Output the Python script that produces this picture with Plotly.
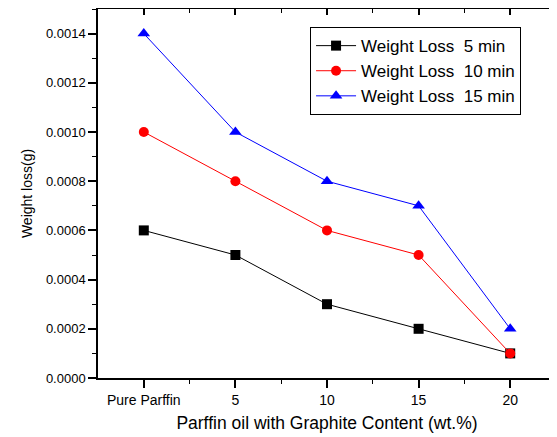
import plotly.graph_objects as go

categories = ["Pure Parffin", "5", "10", "15", "20"]
loss_5min = [0.0006, 0.0005, 0.0003, 0.0002, 0.0001]
loss_10min = [0.0010, 0.0008, 0.0006, 0.0005, 0.0001]
loss_15min = [0.0014, 0.0010, 0.0008, 0.0007, 0.0002]
y_ticks = [0, 0.0002, 0.0004, 0.0006, 0.0008, 0.0010, 0.0012, 0.0014]
y_ticklabels = ["0.0000", "0.0002", "0.0004", "0.0006", "0.0008", "0.0010", "0.0012", "0.0014"]

xpos = list(range(len(categories)))
font = "Arial, Liberation Sans, sans-serif"

fig = go.Figure()
series = [
    ("Weight Loss  5 min", loss_5min, "black", "square"),
    ("Weight Loss  10 min", loss_10min, "red", "circle"),
    ("Weight Loss  15 min", loss_15min, "blue", "triangle-up"),
]
for name, vals, col, sym in series:
    fig.add_trace(go.Scatter(
        x=xpos, y=vals, name=name, mode="lines+markers",
        line=dict(color=col, width=1),
        marker=dict(symbol=sym, size=10 if sym != "triangle-up" else 11, color=col, line=dict(width=0)),
    ))

fig.add_trace(go.Scatter(x=[None], y=[None], xaxis="x2", yaxis="y2", showlegend=False, hoverinfo="skip"))

xr = [-0.5, len(categories) - 0.5]
yr = [0, 0.0015]
minor_x = [i + 0.5 for i in range(len(categories) - 1)]

# page body has an 8px default margin, so the figure is sized/offset to compensate
fig.update_layout(
    width=549, height=429,
    paper_bgcolor="white", plot_bgcolor="white",
    margin=dict(l=90, r=1, t=1, b=59),
    font=dict(family=font, size=13, color="black"),
    xaxis=dict(
        range=xr, tickmode="array", tickvals=xpos, ticktext=categories, automargin=False,
        showgrid=False, zeroline=False, showline=True, linecolor="black", linewidth=1.5,
        ticks="outside", ticklen=8, tickwidth=1.5, tickcolor="black",
        minor=dict(tickmode="array", tickvals=minor_x, ticks="outside", ticklen=4, tickwidth=1.2, tickcolor="black"),
        title=dict(text="Parffin oil with Graphite Content (wt.%)", font=dict(size=17.5), standoff=10),
        tickfont=dict(size=14),
    ),
    yaxis=dict(
        range=yr, tickmode="array", tickvals=y_ticks, ticktext=y_ticklabels, automargin=False,
        showgrid=False, zeroline=False, showline=True, linecolor="black", linewidth=1.5,
        ticks="outside", ticklen=8, tickwidth=1.5, tickcolor="black",
        minor=dict(dtick=0.0001, ticks="outside", ticklen=4, tickwidth=1.2, tickcolor="black"),
        title=dict(text="Weight loss(g)", font=dict(size=14), standoff=10),
        tickfont=dict(size=13),
    ),
    xaxis2=dict(
        overlaying="x", side="top", range=xr, tickmode="array", tickvals=xpos, automargin=False,
        showticklabels=False, showgrid=False, zeroline=False, showline=True,
        linecolor="black", linewidth=1.5, ticks="inside", ticklen=6, tickwidth=1.5, tickcolor="black",
        minor=dict(tickmode="array", tickvals=minor_x, ticks="inside", ticklen=4, tickwidth=1.2, tickcolor="black"),
    ),
    yaxis2=dict(
        overlaying="y", side="right", range=yr, tickmode="array", tickvals=y_ticks, automargin=False,
        showticklabels=False, showgrid=False, zeroline=False, showline=True,
        linecolor="black", linewidth=1.5, ticks="inside", ticklen=6, tickwidth=1.5, tickcolor="black",
        minor=dict(dtick=0.0001, ticks="inside", ticklen=4, tickwidth=1.2, tickcolor="black"),
    ),
    legend=dict(
        x=0.463, y=0.951, xanchor="left", yanchor="top",
        bgcolor="white", bordercolor="black", borderwidth=1,
        font=dict(size=17), tracegroupgap=0, itemwidth=40,
    ),
    showlegend=True,
)

fig.write_html("out.html")
